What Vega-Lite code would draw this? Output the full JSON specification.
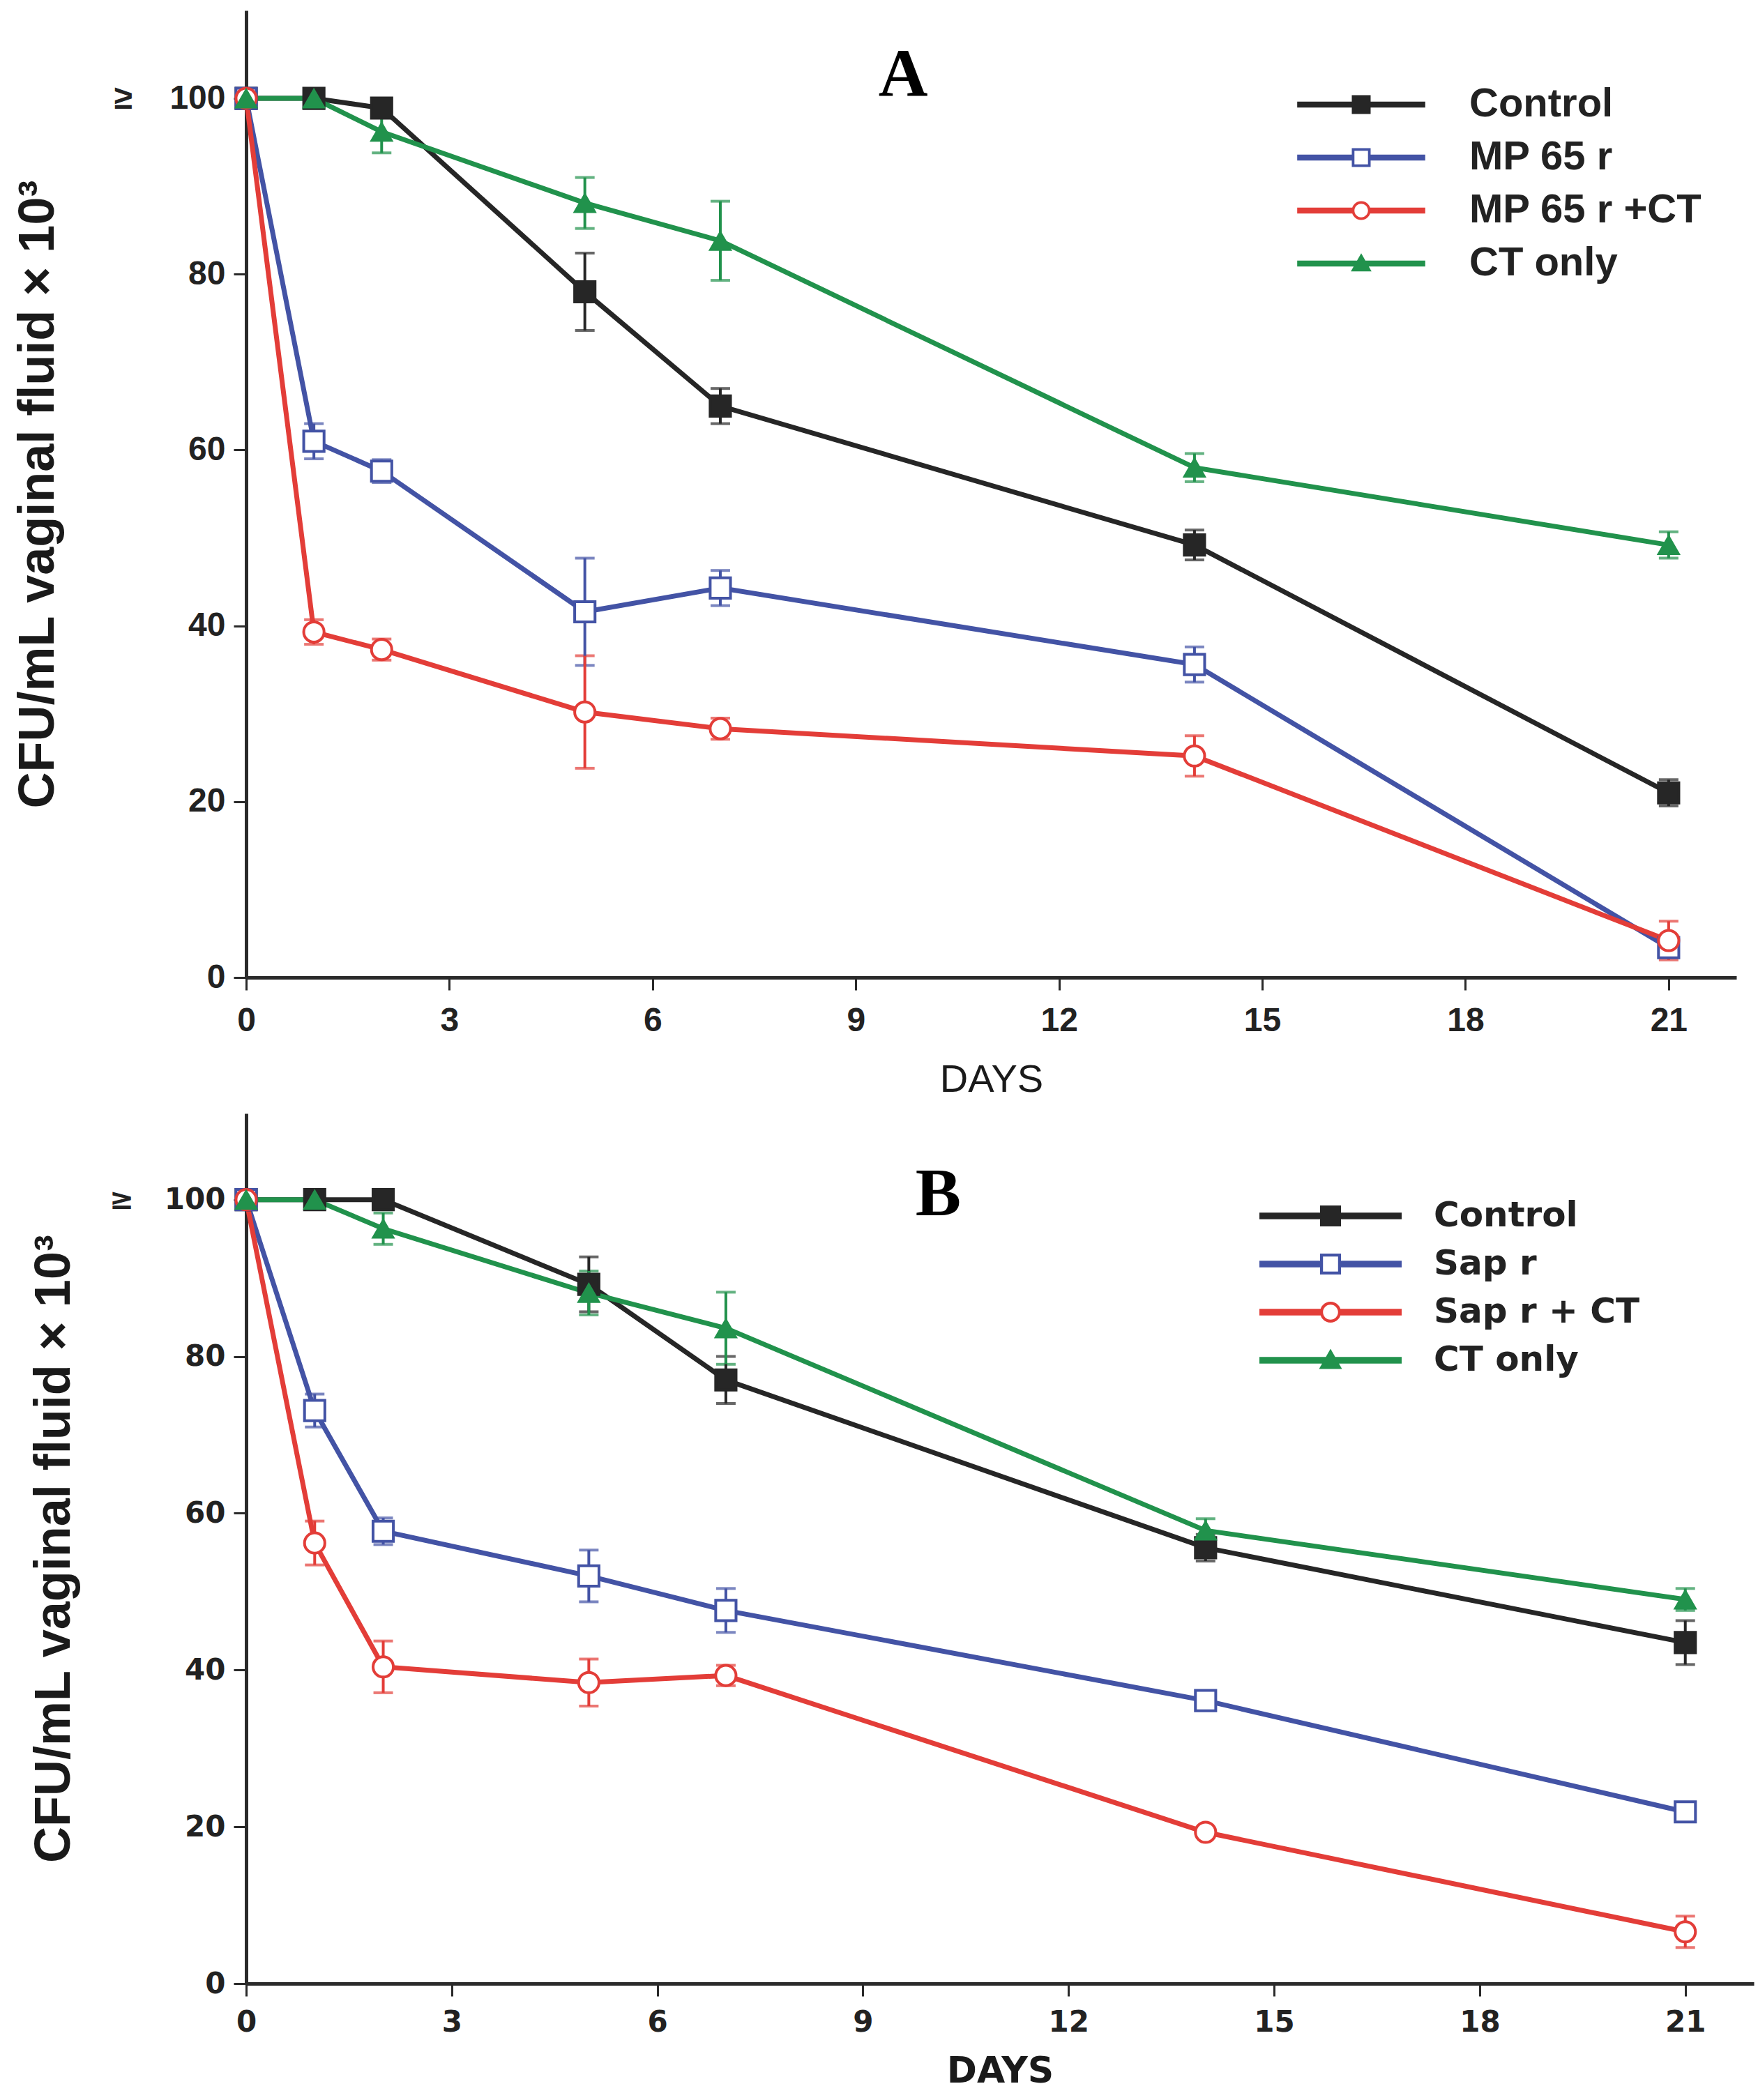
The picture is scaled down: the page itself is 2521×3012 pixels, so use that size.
{
  "$schema": "https://vega.github.io/schema/vega-lite/v6.json",
  "padding": {"left": 18, "top": 15, "right": 5, "bottom": 5},
  "spacing": 21,
  "resolve": {
    "scale": {"color": "independent", "x": "independent", "y": "independent"},
    "legend": {"color": "independent"}
  },
  "vconcat": [
    {
      "width": 2137,
      "height": 1387,
      "data": {
        "values": [
          {"g": "Control", "day": 0, "v": 100, "e": 0},
          {"g": "Control", "day": 1, "v": 100, "e": 0},
          {"g": "Control", "day": 2, "v": 98.9, "e": 0},
          {"g": "Control", "day": 5, "v": 78.0, "e": 4.4},
          {"g": "Control", "day": 7, "v": 65.0, "e": 2.0},
          {"g": "Control", "day": 14, "v": 49.2, "e": 1.7},
          {"g": "Control", "day": 21, "v": 21.0, "e": 1.5},
          {"g": "MP 65 r", "day": 0, "v": 100, "e": 0},
          {"g": "MP 65 r", "day": 1, "v": 61.0, "e": 2.0},
          {"g": "MP 65 r", "day": 2, "v": 57.6, "e": 1.3},
          {"g": "MP 65 r", "day": 5, "v": 41.6, "e": 6.1},
          {"g": "MP 65 r", "day": 7, "v": 44.3, "e": 2.0},
          {"g": "MP 65 r", "day": 14, "v": 35.6, "e": 2.0},
          {"g": "MP 65 r", "day": 21, "v": 3.4, "e": 1.0},
          {"g": "MP 65 r +CT", "day": 0, "v": 100, "e": 0},
          {"g": "MP 65 r +CT", "day": 1, "v": 39.3, "e": 1.4},
          {"g": "MP 65 r +CT", "day": 2, "v": 37.3, "e": 1.2},
          {"g": "MP 65 r +CT", "day": 5, "v": 30.2, "e": 6.4},
          {"g": "MP 65 r +CT", "day": 7, "v": 28.3, "e": 1.2},
          {"g": "MP 65 r +CT", "day": 14, "v": 25.2, "e": 2.3},
          {"g": "MP 65 r +CT", "day": 21, "v": 4.2, "e": 2.2},
          {"g": "CT only", "day": 0, "v": 100, "e": 0},
          {"g": "CT only", "day": 1, "v": 100, "e": 0},
          {"g": "CT only", "day": 2, "v": 96.2, "e": 2.4},
          {"g": "CT only", "day": 5, "v": 88.1, "e": 2.9},
          {"g": "CT only", "day": 7, "v": 83.8, "e": 4.5},
          {"g": "CT only", "day": 14, "v": 58.0, "e": 1.6},
          {"g": "CT only", "day": 21, "v": 49.2, "e": 1.5}
        ]
      },
      "encoding": {
        "x": {
          "field": "day", "type": "quantitative",
          "scale": {"domain": [0, 22], "nice": false},
          "axis": {
            "values": [0, 3, 6, 9, 12, 15, 18, 21], "labelFlush": false, "format": "d",
            "title": "DAYS", "titleFont": "Liberation Sans", "titleFontSize": 56, "titleFontWeight": "normal", "titlePadding": 33,
            "labelFont": "Liberation Sans", "labelFontSize": 48, "labelFontWeight": "bold", "labelPadding": 20
          }
        },
        "y": {
          "field": "v", "type": "quantitative",
          "scale": {"domain": [0, 110], "nice": false},
          "axis": {
            "values": [0, 20, 40, 60, 80, 100], "labelFlush": false, "format": "d",
            "labelExpr": "datum.value === 100 ? '≥\u00a0\u00a0\u00a0\u00a0100' : datum.label",
            "title": "CFU/mL vaginal fluid × 10³", "titleFont": "Liberation Sans", "titleFontSize": 72, "titleFontWeight": "bold", "titlePadding": 72,
            "labelFont": "Liberation Sans", "labelFontSize": 48, "labelFontWeight": "bold", "labelPadding": 12
          }
        }
      },
      "layer": [
        {
          "mark": {"type": "errorbar", "ticks": {"size": 28, "thickness": 4}, "thickness": 4},
          "encoding": {
            "yError": {"field": "e"},
            "color": {
              "field": "g", "type": "nominal",
              "scale": {"domain": ["Control", "MP 65 r", "MP 65 r +CT", "CT only"], "range": ["#262626", "#4353a5", "#e33d38", "#21924c"]}
            }
          }
        },
        {
          "mark": {"type": "line", "strokeWidth": 7},
          "encoding": {
            "color": {
              "field": "g", "type": "nominal",
              "scale": {"domain": ["Control", "MP 65 r", "MP 65 r +CT", "CT only"], "range": ["#262626", "#4353a5", "#e33d38", "#21924c"]},
              "legend": {
                "title": null, "orient": "none", "legendX": 1570, "legendY": 106, "padding": 0,
                "symbolSize": 2916, "symbolStrokeWidth": 0, "rowPadding": 18, "labelOffset": 126, "labelLimit": 0,
                "labelFont": "Liberation Sans", "labelFontSize": 58, "labelFontWeight": "bold", "labelColor": "#222222",
                "encode": {
                  "symbols": {
                    "update": {
                      "shape": {"signal": "['M-3.4,-0.16H3.4V0.16H-3.4Z M-0.5,-0.5H0.5V0.5H-0.5Z', 'M-3.4,-0.16H-0.45V0.16H-3.4Z M0.45,-0.16H3.4V0.16H0.45Z M-0.5,-0.5H0.5V0.5H-0.5Z M-0.36,-0.36V0.36H0.36V-0.36Z', 'M-3.4,-0.16H-0.4V0.16H-3.4Z M0.4,-0.16H3.4V0.16H0.4Z M0.5,0A0.5,0.5,0,1,1,-0.5,0A0.5,0.5,0,1,1,0.5,0Z M0.36,0A0.36,0.36,0,1,0,-0.36,0A0.36,0.36,0,1,0,0.36,0Z', 'M-3.4,-0.16H3.4V0.16H-3.4Z M0,-0.55L0.55,0.42L-0.55,0.42Z'][datum.index]"},
                      "fill": {"signal": "['#262626', '#4353a5', '#e33d38', '#21924c'][datum.index]"},
                      "strokeWidth": {"value": 0},
                      "opacity": {"value": 1}
                    }
                  }
                }
              }
            }
          }
        },
        {
          "transform": [{"filter": "datum.g === 'Control'"}],
          "mark": {"type": "point", "shape": "square", "filled": true, "size": 850, "fill": "#262626", "stroke": "#262626", "strokeWidth": 4, "opacity": 1}
        },
        {
          "transform": [{"filter": "datum.g === 'MP 65 r'"}],
          "mark": {"type": "point", "shape": "square", "filled": true, "size": 850, "fill": "#ffffff", "stroke": "#4353a5", "strokeWidth": 4, "opacity": 1}
        },
        {
          "transform": [{"filter": "datum.g === 'MP 65 r +CT'"}],
          "mark": {"type": "point", "shape": "circle", "filled": true, "size": 850, "fill": "#ffffff", "stroke": "#e33d38", "strokeWidth": 4, "opacity": 1}
        },
        {
          "transform": [{"filter": "datum.g === 'CT only'"}],
          "mark": {"type": "point", "shape": "triangle-up", "filled": true, "size": 950, "fill": "#21924c", "stroke": "#21924c", "strokeWidth": 2, "opacity": 1}
        },
        {
          "data": {"values": [{"t": "A", "day": 9.7, "v": 102.6}]},
          "mark": {"type": "text", "font": "Liberation Serif", "fontSize": 98, "fontWeight": "bold", "baseline": "middle", "align": "center", "fill": "#000000"},
          "encoding": {
            "text": {"field": "t", "type": "nominal"}
          }
        }
      ]
    },
    {
      "width": 2162,
      "height": 1248,
      "data": {
        "values": [
          {"g": "Control", "day": 0, "v": 100, "e": 0},
          {"g": "Control", "day": 1, "v": 100, "e": 0},
          {"g": "Control", "day": 2, "v": 100, "e": 0},
          {"g": "Control", "day": 5, "v": 89.2, "e": 3.5},
          {"g": "Control", "day": 7, "v": 77.0, "e": 3.0},
          {"g": "Control", "day": 14, "v": 55.6, "e": 1.7},
          {"g": "Control", "day": 21, "v": 43.5, "e": 2.8},
          {"g": "Sap r", "day": 0, "v": 100, "e": 0},
          {"g": "Sap r", "day": 1, "v": 73.1, "e": 2.1},
          {"g": "Sap r", "day": 2, "v": 57.7, "e": 1.7},
          {"g": "Sap r", "day": 5, "v": 52.0, "e": 3.3},
          {"g": "Sap r", "day": 7, "v": 47.6, "e": 2.8},
          {"g": "Sap r", "day": 14, "v": 36.1, "e": 1.0},
          {"g": "Sap r", "day": 21, "v": 21.9, "e": 0.8},
          {"g": "Sap r + CT", "day": 0, "v": 100, "e": 0},
          {"g": "Sap r + CT", "day": 1, "v": 56.2, "e": 2.8},
          {"g": "Sap r + CT", "day": 2, "v": 40.4, "e": 3.3},
          {"g": "Sap r + CT", "day": 5, "v": 38.4, "e": 3.0},
          {"g": "Sap r + CT", "day": 7, "v": 39.3, "e": 1.3},
          {"g": "Sap r + CT", "day": 14, "v": 19.3, "e": 0.6},
          {"g": "Sap r + CT", "day": 21, "v": 6.6, "e": 2.0},
          {"g": "CT only", "day": 0, "v": 100, "e": 0},
          {"g": "CT only", "day": 1, "v": 100, "e": 0},
          {"g": "CT only", "day": 2, "v": 96.3, "e": 2.0},
          {"g": "CT only", "day": 5, "v": 88.1, "e": 2.8},
          {"g": "CT only", "day": 7, "v": 83.6, "e": 4.6},
          {"g": "CT only", "day": 14, "v": 57.8, "e": 1.5},
          {"g": "CT only", "day": 21, "v": 49.0, "e": 1.4}
        ]
      },
      "encoding": {
        "x": {
          "field": "day", "type": "quantitative",
          "scale": {"domain": [0, 22], "nice": false},
          "axis": {
            "values": [0, 3, 6, 9, 12, 15, 18, 21], "labelFlush": false, "format": "d",
            "title": "DAYS", "titleFont": "DejaVu Sans", "titleFontSize": 52, "titleFontWeight": "bold", "titlePadding": 24,
            "labelFont": "DejaVu Sans", "labelFontSize": 42, "labelFontWeight": "bold", "labelPadding": 17
          }
        },
        "y": {
          "field": "v", "type": "quantitative",
          "scale": {"domain": [0, 111], "nice": false},
          "axis": {
            "values": [0, 20, 40, 60, 80, 100], "labelFlush": false, "format": "d",
            "labelExpr": "datum.value === 100 ? '≥\u00a0\u00a0\u00a0100' : datum.label",
            "title": "CFU/mL vaginal fluid × 10³", "titleFont": "Liberation Sans", "titleFontSize": 72, "titleFontWeight": "bold", "titlePadding": 42,
            "labelFont": "DejaVu Sans", "labelFontSize": 42, "labelFontWeight": "bold", "labelPadding": 12
          }
        }
      },
      "layer": [
        {
          "mark": {"type": "errorbar", "ticks": {"size": 28, "thickness": 4}, "thickness": 4},
          "encoding": {
            "yError": {"field": "e"},
            "color": {
              "field": "g", "type": "nominal",
              "scale": {"domain": ["Control", "Sap r", "Sap r + CT", "CT only"], "range": ["#262626", "#4353a5", "#e33d38", "#21924c"]}
            }
          }
        },
        {
          "mark": {"type": "line", "strokeWidth": 7},
          "encoding": {
            "color": {
              "field": "g", "type": "nominal",
              "scale": {"domain": ["Control", "Sap r", "Sap r + CT", "CT only"], "range": ["#262626", "#4353a5", "#e33d38", "#21924c"]},
              "legend": {
                "title": null, "orient": "none", "legendX": 1525, "legendY": 117, "padding": 0,
                "symbolSize": 3600, "symbolStrokeWidth": 0, "rowPadding": 14, "labelOffset": 118, "labelLimit": 0,
                "labelFont": "DejaVu Sans", "labelFontSize": 50, "labelFontWeight": "bold", "labelColor": "#222222",
                "encode": {
                  "symbols": {
                    "update": {
                      "shape": {"signal": "['M-3.4,-0.16H3.4V0.16H-3.4Z M-0.5,-0.5H0.5V0.5H-0.5Z', 'M-3.4,-0.16H-0.45V0.16H-3.4Z M0.45,-0.16H3.4V0.16H0.45Z M-0.5,-0.5H0.5V0.5H-0.5Z M-0.36,-0.36V0.36H0.36V-0.36Z', 'M-3.4,-0.16H-0.4V0.16H-3.4Z M0.4,-0.16H3.4V0.16H0.4Z M0.5,0A0.5,0.5,0,1,1,-0.5,0A0.5,0.5,0,1,1,0.5,0Z M0.36,0A0.36,0.36,0,1,0,-0.36,0A0.36,0.36,0,1,0,0.36,0Z', 'M-3.4,-0.16H3.4V0.16H-3.4Z M0,-0.55L0.55,0.42L-0.55,0.42Z'][datum.index]"},
                      "fill": {"signal": "['#262626', '#4353a5', '#e33d38', '#21924c'][datum.index]"},
                      "strokeWidth": {"value": 0},
                      "opacity": {"value": 1}
                    }
                  }
                }
              }
            }
          }
        },
        {
          "transform": [{"filter": "datum.g === 'Control'"}],
          "mark": {"type": "point", "shape": "square", "filled": true, "size": 850, "fill": "#262626", "stroke": "#262626", "strokeWidth": 4, "opacity": 1}
        },
        {
          "transform": [{"filter": "datum.g === 'Sap r'"}],
          "mark": {"type": "point", "shape": "square", "filled": true, "size": 850, "fill": "#ffffff", "stroke": "#4353a5", "strokeWidth": 4, "opacity": 1}
        },
        {
          "transform": [{"filter": "datum.g === 'Sap r + CT'"}],
          "mark": {"type": "point", "shape": "circle", "filled": true, "size": 850, "fill": "#ffffff", "stroke": "#e33d38", "strokeWidth": 4, "opacity": 1}
        },
        {
          "transform": [{"filter": "datum.g === 'CT only'"}],
          "mark": {"type": "point", "shape": "triangle-up", "filled": true, "size": 950, "fill": "#21924c", "stroke": "#21924c", "strokeWidth": 2, "opacity": 1}
        },
        {
          "data": {"values": [{"t": "B", "day": 10.1, "v": 100.6}]},
          "mark": {"type": "text", "font": "Liberation Serif", "fontSize": 98, "fontWeight": "bold", "baseline": "middle", "align": "center", "fill": "#000000"},
          "encoding": {
            "text": {"field": "t", "type": "nominal"}
          }
        }
      ]
    }
  ],
  "config": {
    "view": {"stroke": null},
    "axis": {
      "grid": false, "domainColor": "#2a2a2a", "domainWidth": 5, "tickColor": "#2a2a2a", "tickWidth": 3, "tickSize": 18,
      "labelColor": "#222222", "titleColor": "#1a1a1a"
    }
  }
}
